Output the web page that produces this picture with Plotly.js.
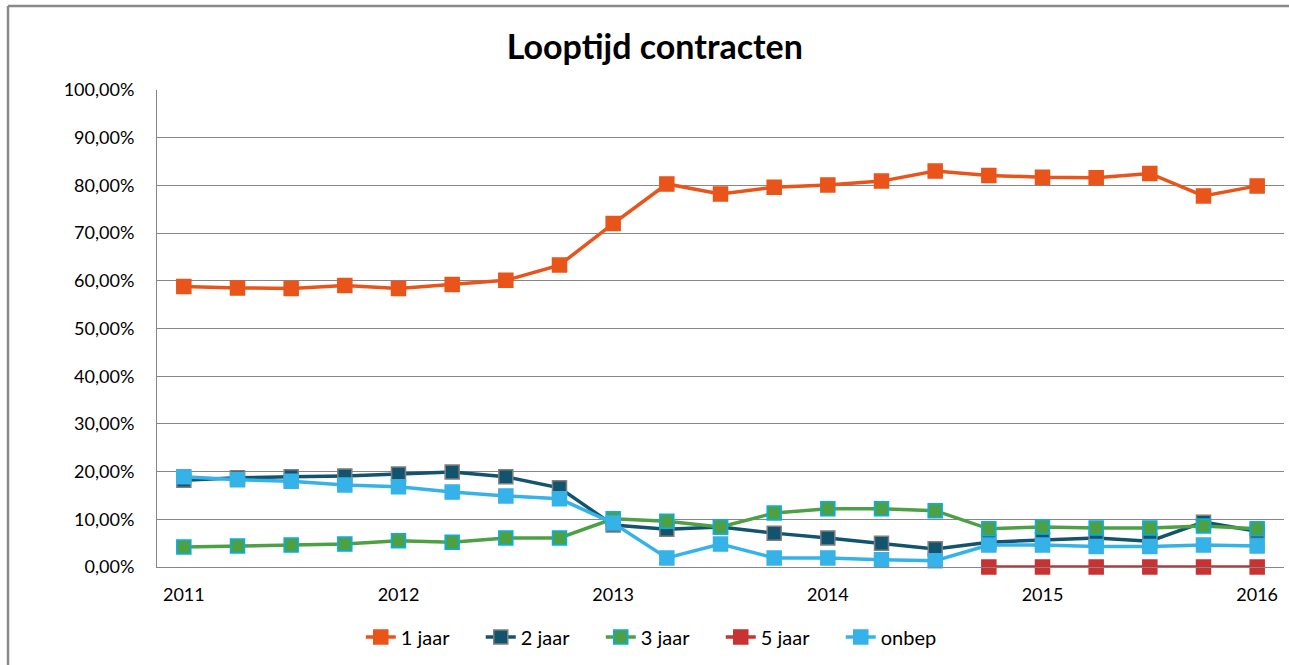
<!DOCTYPE html>
<html>
<head>
<meta charset="utf-8">
<script src="https://cdn.plot.ly/plotly-3.0.1.min.js"></script>
<style>
html,body{margin:0;padding:0;background:#fff;}
#chart{width:1289px;height:665px;}
</style>
</head>
<body>
<div id="chart"></div>
<script>
// Quarterly categories 2011 Q1 .. 2016 Q1
const categories = ["2011 K1","2011 K2","2011 K3","2011 K4","2012 K1","2012 K2","2012 K3","2012 K4",
  "2013 K1","2013 K2","2013 K3","2013 K4","2014 K1","2014 K2","2014 K3","2014 K4",
  "2015 K1","2015 K2","2015 K3","2015 K4","2016 K1"];
const tickCategories = ["2011 K1","2012 K1","2013 K1","2014 K1","2015 K1","2016 K1"];
const tickLabels = ["2011","2012","2013","2014","2015","2016"];

const jaar1 = [58.8,58.5,58.4,59.0,58.4,59.2,60.1,63.3,72.0,80.3,78.2,79.6,80.1,80.9,83.0,82.1,81.7,81.6,82.5,77.8,79.9];
const jaar2 = [18.2,18.7,18.9,19.1,19.5,19.9,18.9,16.6,8.8,7.9,8.4,7.1,6.1,5.0,3.8,5.2,5.7,6.1,5.4,9.4,7.5];
const jaar3 = [4.2,4.4,4.6,4.8,5.5,5.2,6.1,6.1,10.1,9.6,8.4,11.3,12.2,12.2,11.8,8.0,8.4,8.2,8.2,8.6,8.0];
const jaar5 = [null,null,null,null,null,null,null,null,null,null,null,null,null,null,null,0,0,0,0,0,0];
const onbep = [18.9,18.3,18.0,17.2,16.8,15.7,14.9,14.3,9.2,1.9,4.8,1.9,1.9,1.5,1.3,4.6,4.6,4.3,4.3,4.6,4.4];

function tr(name, y, lineColor, markerColor, borderColor){
  return {
    type:'scatter', mode:'lines+markers', name:name, x:categories, y:y,
    line:{color:lineColor, width:3.5},
    marker:{symbol:'square', size:14, color:markerColor, line:{color:borderColor, width:1.5}},
    connectgaps:false, cliponaxis:false
  };
}
const data = [
  tr('1 jaar', jaar1, '#E8541A', '#E8541A', '#E8541A'),
  tr('2 jaar', jaar2, '#12546E', '#12546E', '#7F7F7F'),
  tr('3 jaar', jaar3, '#4EA044', '#4EA044', '#00B0F0'),
  tr('5 jaar', jaar5, '#C83232', '#C83232', '#C83232'),
  tr('onbep', onbep, '#35B2E8', '#35B2E8', '#35B2E8')
];

const fontFam = 'Lato, "Open Sans", "DejaVu Sans", sans-serif';
const layout = {
  width:1289, height:665,
  margin:{l:157, r:5, t:90, b:98},
  paper_bgcolor:'#fff', plot_bgcolor:'#fff',
  separators:',.',
  font:{family:fontFam, size:17, color:'#000'},
  title:{text:'<b>Looptijd contracten</b>', x:0.508, xref:'container', y:0.929, yref:'container', yanchor:'middle', xanchor:'center', font:{family:fontFam, size:34, color:'#000'}},
  xaxis:{type:'category', categoryorder:'array', categoryarray:categories,
    tickmode:'array', tickvals:tickCategories, ticktext:tickLabels,
    range:[-0.5, 20.5], showgrid:false, showline:true, linecolor:'#868686', linewidth:1,
    ticks:'', ticklen:0, zeroline:false, tickfont:{size:18}, ticklabelstandoff:11},
  yaxis:{range:[0,100], dtick:10, tickformat:'.2f', ticksuffix:'%',
    showgrid:true, gridcolor:'#868686', gridwidth:1, showline:true, linecolor:'#868686', linewidth:1,
    zeroline:false, ticks:'', tickfont:{size:18}, ticklabelstandoff:18},
  showlegend:true,
  legend:{orientation:'h', x:0.447, xanchor:'center', y:-0.147, yanchor:'middle', font:{size:20}, entrywidth:75, traceorder:'normal'},
  shapes:[
    {type:'line', xref:'paper', yref:'paper', x0:-0.1322, x1:-0.1322, y0:1.176, y1:-0.21, line:{color:'#898989', width:2.5}},
    {type:'line', xref:'paper', yref:'paper', x0:-0.1322, x1:1.01, y0:1.176, y1:1.176, line:{color:'#898989', width:2.5}}
  ]
};
Plotly.newPlot('chart', data, layout, {displayModeBar:false, staticPlot:true});
</script>
</body>
</html>
